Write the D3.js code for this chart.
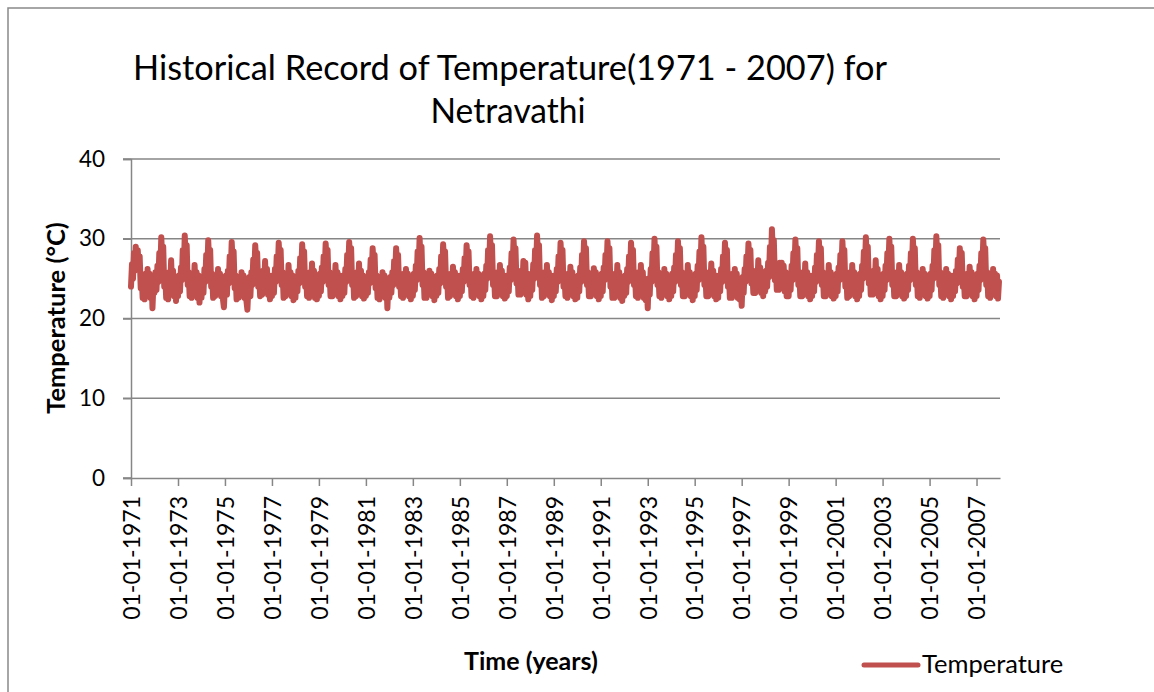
<!DOCTYPE html>
<html>
<head>
<meta charset="utf-8">
<script src="https://cdn.jsdelivr.net/npm/d3@7"></script>
<style>
  body { margin: 0; background: #fff; }
  text { font-family: Lato, "Open Sans", sans-serif; fill: #000; }
</style>
</head>
<body>
<div id="chart"></div>
<script>

// years on the record, one row of half-monthly temperatures per year
var years = d3.range(1971, 2008);

var yTicks = [0, 10, 20, 30, 40];
var xTickYears = d3.range(1971, 2008, 2);

var halfMonthTemps = [
    [24.0, 26.8, 25.0, 28.2, 26.0, 29.0, 27.2, 28.6, 26.4, 27.8, 23.8, 25.4, 22.6, 25.0, 22.4, 25.6, 23.2, 26.2, 23.4, 25.6, 22.6, 25.0, 21.3, 24.4],
    [23.2, 25.8, 23.6, 26.6, 24.6, 28.2, 26.0, 30.2, 27.4, 29.0, 24.0, 25.6, 22.6, 25.2, 22.4, 25.8, 23.8, 27.3, 24.0, 26.0, 22.8, 25.2, 22.2, 24.6],
    [22.8, 25.4, 23.4, 26.4, 24.8, 28.6, 26.2, 30.4, 27.6, 29.2, 24.2, 25.8, 22.8, 25.4, 22.6, 25.6, 23.6, 26.7, 23.8, 25.8, 22.6, 25.4, 22.0, 24.4],
    [22.6, 25.2, 23.2, 26.2, 24.6, 28.0, 25.8, 29.8, 27.0, 28.6, 24.0, 25.6, 22.6, 25.2, 22.8, 25.4, 23.4, 26.2, 23.6, 25.6, 22.8, 25.2, 22.4, 21.4],
    [24.2, 25.4, 23.0, 26.0, 24.4, 27.8, 25.6, 29.6, 27.0, 28.4, 23.8, 25.4, 22.4, 25.0, 22.6, 25.2, 23.2, 25.8, 23.4, 25.4, 22.6, 25.0, 22.2, 21.1],
    [24.0, 25.2, 22.8, 25.8, 24.2, 27.4, 25.4, 29.2, 26.8, 28.2, 24.0, 25.8, 22.8, 25.6, 23.0, 26.0, 23.8, 27.2, 24.0, 26.2, 23.0, 25.4, 22.4, 24.6],
    [22.8, 25.4, 23.2, 26.2, 24.6, 27.8, 25.8, 29.5, 27.2, 28.6, 24.2, 25.8, 22.6, 25.4, 22.8, 25.6, 23.6, 26.7, 23.8, 25.8, 22.8, 25.4, 22.3, 24.6],
    [22.6, 25.2, 23.4, 26.0, 24.4, 27.6, 25.6, 29.3, 27.0, 28.4, 24.0, 25.6, 22.8, 25.2, 22.6, 25.8, 23.8, 26.9, 23.6, 26.0, 22.6, 25.2, 22.4, 24.4],
    [22.8, 25.6, 23.4, 26.4, 24.6, 27.8, 25.8, 29.4, 27.2, 28.6, 24.2, 25.8, 22.8, 25.4, 22.8, 25.6, 23.6, 26.7, 23.8, 25.8, 22.8, 25.4, 22.4, 24.6],
    [22.8, 25.4, 23.2, 26.2, 24.6, 28.0, 26.0, 29.6, 27.2, 28.8, 24.2, 25.6, 22.6, 25.4, 22.8, 25.8, 23.8, 26.9, 23.8, 26.0, 22.8, 25.4, 22.5, 24.6],
    [22.8, 25.2, 23.2, 25.8, 24.4, 27.4, 25.6, 28.8, 26.8, 28.0, 23.8, 25.4, 22.6, 25.0, 22.4, 25.2, 23.2, 25.8, 23.4, 25.4, 22.6, 25.0, 21.3, 24.2],
    [22.6, 25.2, 23.2, 25.8, 24.2, 27.2, 25.6, 28.8, 26.8, 28.0, 24.0, 25.6, 22.8, 25.2, 22.6, 25.6, 23.4, 26.2, 23.6, 25.6, 22.8, 25.2, 22.4, 24.4],
    [22.8, 25.6, 23.6, 26.6, 24.8, 28.4, 26.2, 30.1, 27.4, 29.0, 24.2, 25.8, 22.6, 25.2, 22.6, 25.4, 23.4, 26.0, 23.6, 25.6, 22.8, 25.2, 22.3, 24.4],
    [22.8, 25.4, 23.2, 26.2, 24.4, 27.8, 25.8, 29.3, 27.0, 28.4, 24.0, 25.6, 22.6, 25.4, 22.8, 25.6, 23.6, 26.5, 23.8, 25.8, 22.8, 25.4, 22.4, 24.6],
    [22.8, 25.4, 23.4, 26.2, 24.6, 27.6, 25.8, 29.2, 27.0, 28.4, 24.2, 25.6, 22.8, 25.2, 22.6, 25.6, 23.4, 26.2, 23.6, 25.6, 22.8, 25.4, 22.4, 24.6],
    [22.8, 25.6, 23.6, 26.6, 25.0, 28.6, 26.4, 30.3, 27.6, 29.2, 24.2, 25.8, 22.8, 25.4, 22.8, 25.8, 23.8, 26.7, 23.8, 26.0, 22.8, 25.4, 22.5, 24.6],
    [22.8, 25.4, 23.4, 26.4, 24.8, 28.2, 26.2, 29.9, 27.4, 28.8, 24.4, 26.0, 23.0, 25.6, 23.0, 26.0, 24.0, 27.2, 24.2, 27.0, 23.0, 25.6, 22.4, 24.8],
    [22.8, 25.6, 23.6, 26.8, 25.0, 28.6, 26.4, 30.4, 27.6, 29.2, 24.2, 25.8, 22.6, 25.4, 22.8, 25.8, 23.6, 26.7, 23.8, 25.8, 22.8, 25.4, 22.3, 24.6],
    [22.8, 25.4, 23.4, 26.2, 24.6, 27.8, 25.8, 29.5, 27.0, 28.6, 24.0, 25.6, 22.8, 25.4, 22.6, 25.6, 23.6, 26.5, 23.6, 25.8, 22.8, 25.2, 22.4, 24.4],
    [22.6, 25.4, 23.4, 26.4, 24.6, 28.0, 26.0, 29.7, 27.2, 28.8, 24.2, 25.8, 22.8, 25.4, 22.8, 25.6, 23.6, 26.3, 23.8, 25.8, 22.8, 25.4, 22.4, 24.6],
    [22.8, 25.6, 23.4, 26.4, 24.8, 28.0, 26.0, 29.7, 27.2, 28.8, 24.0, 25.6, 22.6, 25.2, 22.6, 25.6, 23.6, 26.7, 23.8, 25.8, 22.6, 25.2, 22.2, 24.4],
    [22.8, 25.4, 23.2, 26.2, 24.6, 27.8, 25.8, 29.5, 27.0, 28.6, 24.2, 25.8, 22.8, 25.4, 22.6, 25.8, 23.6, 26.7, 23.6, 25.8, 22.6, 25.0, 22.3, 24.2],
    [21.3, 25.0, 23.0, 26.2, 24.6, 28.2, 26.2, 30.0, 27.2, 29.0, 24.2, 25.8, 22.8, 25.4, 22.6, 25.6, 23.4, 26.2, 23.6, 25.6, 22.8, 25.2, 22.4, 24.6],
    [22.8, 25.6, 23.4, 26.4, 24.6, 28.0, 26.0, 29.7, 27.2, 28.8, 24.2, 25.8, 22.8, 25.4, 22.8, 25.6, 23.6, 26.7, 23.8, 25.8, 22.8, 25.4, 22.3, 24.6],
    [22.8, 25.6, 23.6, 26.6, 24.8, 28.4, 26.2, 30.2, 27.4, 29.0, 24.2, 25.8, 22.8, 25.4, 22.8, 25.8, 23.8, 26.9, 23.8, 26.0, 22.8, 25.4, 22.4, 24.4],
    [22.6, 25.4, 23.4, 26.2, 24.6, 27.8, 25.8, 29.5, 27.0, 28.6, 24.0, 25.6, 22.6, 25.2, 22.6, 25.6, 23.4, 26.2, 23.6, 25.6, 22.6, 25.0, 22.4, 24.2],
    [21.6, 25.2, 23.2, 26.2, 24.6, 27.8, 25.8, 29.4, 27.0, 28.6, 24.4, 26.0, 23.2, 25.8, 23.2, 26.0, 24.0, 27.3, 24.2, 26.4, 23.2, 25.8, 22.8, 25.0],
    [23.4, 26.0, 24.0, 27.0, 25.2, 29.0, 26.8, 31.2, 28.0, 29.8, 24.8, 26.6, 23.6, 26.6, 23.6, 27.0, 24.2, 27.0, 24.0, 26.6, 23.4, 25.8, 22.8, 25.0],
    [22.8, 25.6, 23.6, 26.6, 24.8, 28.2, 26.2, 29.9, 27.4, 28.8, 24.2, 25.8, 22.8, 25.4, 22.8, 25.8, 23.6, 26.9, 23.8, 25.8, 22.8, 25.4, 22.4, 24.6],
    [22.8, 25.4, 23.4, 26.4, 24.6, 28.0, 26.0, 29.7, 27.2, 28.8, 24.2, 25.8, 22.8, 25.4, 22.8, 25.6, 23.6, 26.7, 23.8, 25.8, 22.8, 25.4, 22.5, 24.6],
    [22.8, 25.6, 23.4, 26.4, 24.8, 28.0, 26.0, 29.7, 27.2, 28.6, 24.0, 25.6, 22.6, 25.4, 22.8, 25.8, 23.6, 26.7, 23.8, 25.8, 22.8, 25.2, 22.4, 24.6],
    [22.8, 25.6, 23.6, 26.6, 25.0, 28.4, 26.2, 30.2, 27.4, 29.0, 24.4, 26.0, 23.0, 25.6, 23.0, 26.0, 24.0, 27.3, 24.0, 26.2, 22.8, 25.4, 22.4, 24.6],
    [22.8, 25.6, 23.6, 26.6, 24.8, 28.2, 26.2, 30.0, 27.4, 29.0, 24.2, 25.8, 22.8, 25.4, 22.8, 25.8, 23.6, 26.7, 23.8, 25.8, 22.8, 25.4, 22.5, 24.6],
    [22.8, 25.6, 23.6, 26.6, 24.8, 28.2, 26.2, 30.0, 27.4, 28.8, 24.2, 25.8, 22.8, 25.4, 22.6, 25.6, 23.4, 26.2, 23.6, 25.6, 22.8, 25.4, 22.5, 24.6],
    [22.8, 25.6, 23.6, 26.6, 25.0, 28.6, 26.4, 30.3, 27.6, 29.2, 24.2, 25.8, 22.8, 25.4, 22.6, 25.6, 23.4, 26.2, 23.6, 25.6, 22.8, 25.4, 22.4, 24.6],
    [22.8, 25.4, 23.4, 26.0, 24.4, 27.4, 25.6, 28.8, 26.8, 28.2, 24.0, 25.6, 22.8, 25.4, 22.8, 25.6, 23.6, 26.5, 23.6, 25.8, 22.8, 25.4, 22.4, 24.6],
    [22.8, 25.6, 23.6, 26.6, 24.8, 28.2, 26.2, 29.9, 27.4, 28.8, 24.2, 25.8, 22.8, 25.4, 22.6, 25.6, 23.4, 26.2, 23.6, 25.6, 22.8, 25.4, 22.5, 24.6]
];

var lineColor = "#c0504d";
var gridColor = "#868686";

var W = 1154, H = 692;
var margin = {left: 131, right: 154, top: 159, bottom: 214};

var svg = d3.select("#chart")
    .append("svg")
    .attr("width", W)
    .attr("height", H);

// chart area border (right / bottom edges fall outside the picture)
svg.append("rect")
    .attr("x", 8).attr("y", 8)
    .attr("width", W).attr("height", H)
    .style("fill", "none")
    .style("stroke", "#898989")
    .style("stroke-width", 1.5);

// flatten rows into dated points, one every half month
var points = [];
years.forEach(function(yr, i){
    halfMonthTemps[i].forEach(function(v, j){
        var month = Math.floor(j / 2);
        var day = (j % 2 == 0) ? 1 : 16;
        points.push({date: new Date(yr, month, day), temp: v});
    });
});

var x = d3.scaleTime()
    .domain([new Date(1971, 0, 1), new Date(2008, 0, 1)])
    .range([margin.left, W - margin.right]);

var y = d3.scaleLinear()
    .domain([0, 40])
    .range([H - margin.bottom, margin.top]);

var plotRight = x.range()[1];

// horizontal gridlines with their outside ticks
svg.append("g")
    .selectAll("line")
    .data(yTicks)
    .enter()
    .append("line")
    .attr("x1", margin.left - 8)
    .attr("x2", function(d){ return d == 0 ? margin.left : plotRight; })
    .attr("y1", function(d){ return y(d); })
    .attr("y2", function(d){ return y(d); })
    .style("stroke", gridColor)
    .style("stroke-width", 1.5);

var yAxis = d3.axisLeft(y)
    .tickValues(yTicks)
    .tickSize(8)
    .tickPadding(18);

var gy = svg.append("g")
    .attr("transform", "translate(" + margin.left + ",0)")
    .call(yAxis);
gy.select(".domain").style("stroke", gridColor).style("stroke-width", 1.5);
gy.selectAll(".tick line").style("stroke", gridColor).style("stroke-width", 1.5);
gy.selectAll(".tick text")
    .style("font-size", "22.5px")
    .style("font-family", "Lato, sans-serif")
    .attr("fill", "#000");

var xAxis = d3.axisBottom(x)
    .tickValues(xTickYears.map(function(yr){ return new Date(yr, 0, 1); }))
    .tickSize(8)
    .tickSizeOuter(0)
    .tickFormat(d3.timeFormat("%d-%m-%Y"));

var gx = svg.append("g")
    .attr("transform", "translate(0," + y(0) + ")")
    .call(xAxis);
gx.select(".domain").style("stroke", gridColor).style("stroke-width", 1.5);
gx.selectAll(".tick line").style("stroke", gridColor).style("stroke-width", 1.5);
gx.selectAll(".tick text")
    .attr("transform", "rotate(-90)")
    .attr("x", -18)
    .attr("y", 0)
    .attr("dy", "0.36em")
    .style("text-anchor", "end")
    .style("font-size", "23px")
    .style("font-family", "Lato, sans-serif")
    .attr("fill", "#000");

// the temperature series
var line = d3.line()
    .x(function(d){ return x(d.date); })
    .y(function(d){ return y(d.temp); });

svg.append("path")
    .datum(points)
    .attr("d", line)
    .style("fill", "none")
    .style("stroke", lineColor)
    .style("stroke-width", 6)
    .style("stroke-linejoin", "round")
    .style("stroke-linecap", "round");

// titles
svg.append("text")
    .attr("x", 510).attr("y", 80)
    .attr("text-anchor", "middle")
    .attr("textLength", 754)
    .attr("lengthAdjust", "spacingAndGlyphs")
    .style("font-size", "34px")
    .text("Historical Record of Temperature(1971 - 2007) for");

svg.append("text")
    .attr("x", 508).attr("y", 123)
    .attr("text-anchor", "middle")
    .attr("textLength", 155)
    .attr("lengthAdjust", "spacingAndGlyphs")
    .style("font-size", "34px")
    .text("Netravathi");

svg.append("text")
    .attr("transform", "translate(65,318) rotate(-90)")
    .attr("text-anchor", "middle")
    .style("font-size", "25.5px")
    .style("font-weight", "bold")
    .text("Temperature (\u00b0C)");

svg.append("text")
    .attr("x", 531).attr("y", 670)
    .attr("text-anchor", "middle")
    .style("font-size", "25px")
    .style("font-weight", "bold")
    .text("Time (years)");

// legend
var legend = svg.append("g").attr("transform", "translate(864,665)");
legend.append("line")
    .attr("x1", 0).attr("x2", 54)
    .attr("y1", 0).attr("y2", 0)
    .style("stroke", lineColor)
    .style("stroke-width", 5)
    .style("stroke-linecap", "round");
legend.append("text")
    .attr("x", 58).attr("y", 8)
    .style("font-size", "25.5px")
    .text("Temperature");

</script>
</body>
</html>
